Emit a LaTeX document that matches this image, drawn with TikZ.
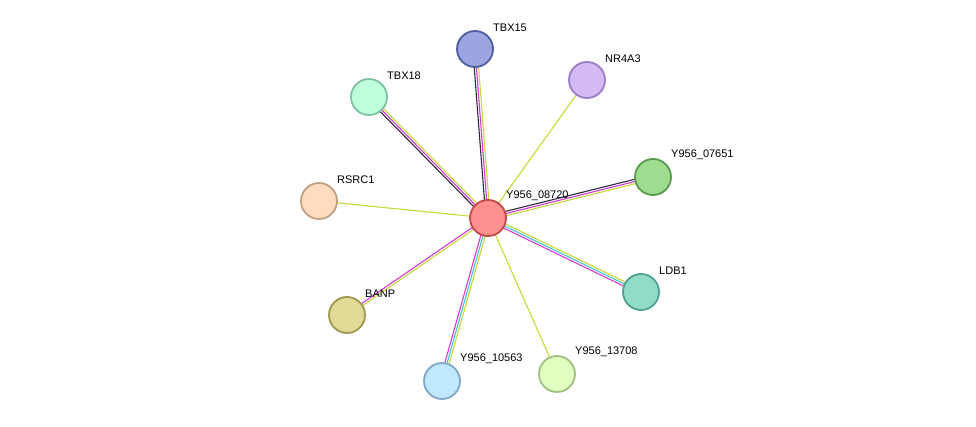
\documentclass[tikz,border=0pt]{standalone}
\usepackage{fontspec}
\setmainfont{Liberation Sans}
\usetikzlibrary{positioning,calc,backgrounds}

\definecolor{tm}{RGB}{199,216,51}
\definecolor{ex}{RGB}{214,56,214}
\definecolor{db}{RGB}{64,196,214}
\definecolor{co}{RGB}{50,40,60}

\tikzset{
	prot/.style={circle, draw, line width=1.8pt, minimum size=36pt, inner sep=0pt},
	lbl/.style={inner sep=0pt, font=\fontsize{11}{13}\selectfont, anchor=south west},
	lnk/.style={line width=1.1pt}
}

\newcommand{\ppi}[3]{%
	\foreach \col/\off in {#3}
		\draw[lnk, \col] ($(#1.center)!\off!90:(#2.center)$) -- ($(#2.center)!\off!-90:(#1.center)$);%
}

\begin{document}
\begin{tikzpicture}[x=1pt, y=-1pt]
	\useasboundingbox (0,0) rectangle (976,427);
	\node[prot, fill={rgb,255:red,255;green,144;blue,144}, draw={rgb,255:red,196;green,72;blue,72}] (y08720) at (488,218) {};
	\node[prot, fill={rgb,255:red,155;green,166;blue,224}, draw={rgb,255:red,80;green,92;blue,160}] (tbx15) at (475,49) {};
	\node[prot, fill={rgb,255:red,212;green,186;blue,242}, draw={rgb,255:red,154;green,124;blue,200}] (nr4a3) at (587,80) {};
	\node[prot, fill={rgb,255:red,160;green,220;blue,144}, draw={rgb,255:red,90;green,154;blue,80}] (y07651) at (653,177) {};
	\node[prot, fill={rgb,255:red,144;green,220;blue,200}, draw={rgb,255:red,80;green,160;blue,144}] (ldb1) at (641,292) {};
	\node[prot, fill={rgb,255:red,224;green,255;blue,192}, draw={rgb,255:red,160;green,192;blue,128}] (y13708) at (557,374) {};
	\node[prot, fill={rgb,255:red,192;green,232;blue,255}, draw={rgb,255:red,128;green,168;blue,200}] (y10563) at (442,381) {};
	\node[prot, fill={rgb,255:red,224;green,220;blue,152}, draw={rgb,255:red,160;green,152;blue,80}] (banp) at (347,315) {};
	\node[prot, fill={rgb,255:red,255;green,220;blue,192}, draw={rgb,255:red,192;green,160;blue,128}] (rsrc1) at (319,201) {};
	\node[prot, fill={rgb,255:red,192;green,255;blue,220}, draw={rgb,255:red,128;green,192;blue,160}] (tbx18) at (369,97) {};

	% labels
	\node[lbl, above right=17pt and 18pt of y08720.center] {Y956\_08720};
	\node[lbl, above right=17pt and 18pt of tbx15.center] {TBX15};
	\node[lbl, above right=17pt and 18pt of nr4a3.center] {NR4A3};
	\node[lbl, above right=17pt and 18pt of y07651.center] {Y956\_07651};
	\node[lbl, above right=17pt and 18pt of ldb1.center] {LDB1};
	\node[lbl, above right=17pt and 18pt of y13708.center] {Y956\_13708};
	\node[lbl, above right=17pt and 18pt of y10563.center] {Y956\_10563};
	\node[lbl, above right=17pt and 18pt of banp.center] {BANP};
	\node[lbl, above right=17pt and 18pt of rsrc1.center] {RSRC1};
	\node[lbl, above right=17pt and 18pt of tbx18.center] {TBX18};

	\begin{pgfonlayer}{background}
		\ppi{y08720}{tbx15}{tm/-2.2pt, ex/0pt, co/2.2pt}
		\ppi{y08720}{nr4a3}{tm/0pt}
		\ppi{y08720}{y07651}{tm/-2.2pt, ex/0pt, co/2.2pt}
		\ppi{y08720}{ldb1}{tm/2.2pt, db/0pt, ex/-2.2pt}
		\ppi{y08720}{y13708}{tm/0pt}
		\ppi{y08720}{y10563}{tm/2.2pt, db/0pt, ex/-2.2pt}
		\ppi{y08720}{banp}{tm/1.1pt, ex/-1.1pt}
		\ppi{y08720}{rsrc1}{tm/0pt}
		\ppi{y08720}{tbx18}{tm/-2.2pt, ex/0pt, co/2.2pt}
	\end{pgfonlayer}
\end{tikzpicture}
\end{document}
